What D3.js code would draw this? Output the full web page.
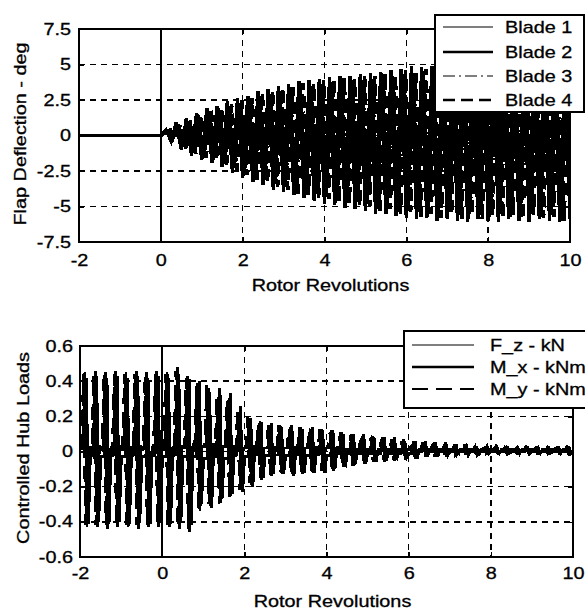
<!DOCTYPE html>
<html><head><meta charset="utf-8">
<script src="https://cdn.jsdelivr.net/npm/d3@7"></script>
<style>
body{margin:0;background:#fff}
text{font-family:"Liberation Sans",Arial,Helvetica,sans-serif;fill:#000;font-size:16px;stroke:#000;stroke-width:0.3px}
</style>
</head><body>
<svg id="chart" width="585" height="612"></svg>
<script>
// ---------- data ----------
const revTicks = [-2, 0, 2, 4, 6, 8, 10];
const revTickLabels = ["-2", "0", "2", "4", "6", "8", "10"];
const flapTicks = [-7.5, -5, -2.5, 0, 2.5, 5, 7.5];
const flapTickLabels = ["-7.5", "-5", "-2.5", "0", "2.5", "5", "7.5"];
const hubTicks = [-0.6, -0.4, -0.2, 0, 0.2, 0.4, 0.6];
const hubTickLabels = ["-0.6", "-0.4", "-0.2", "0", "0.2", "0.4", "0.6"];
const controlOn = 0;          // rotor revolution at which control is switched on
const xTitle = "Rotor Revolutions";
const flapTitle = "Flap Deflection - deg";
const hubTitle = "Controlled Hub Loads";
const bladeNames = ["Blade 1", "Blade 2", "Blade 3", "Blade 4"];
const hubNames = ["F_z - kN", "M_x - kNm", "M_y - kNm"];

// flap deflection: successive extremes (peak, trough, ...) every 1/8 rev from t = 0
const flapStep = 0.125;
const bladeLag = [0, 0.035, 0.07, 0.105];
const blade1 = [0,
 0.4,-0.4, 0.9,-1.0, 1.2,-1.4, 1.6,-1.7, 1.9,-1.9, 2.1,-2.2, 2.4,-2.6, 2.6,-3.0,
 2.8,-3.3, 3.1,-3.5, 3.3,-3.8, 3.5,-4.0, 3.6,-4.2, 3.8,-4.4, 3.9,-4.6, 4.0,-4.8,
 4.1,-4.9, 4.2,-5.1, 4.2,-5.2, 4.3,-5.3, 4.4,-5.5, 4.5,-5.5, 4.6,-5.7, 4.7,-5.8,
 4.9,-5.9, 4.8,-5.8, 4.9,-6.0, 4.7,-5.9, 4.9,-6.0, 4.8,-6.1, 5.0,-5.9, 4.8,-6.0,
 4.9,-6.1, 4.7,-5.9, 5.0,-6.0, 4.8,-6.1, 4.9,-5.9, 4.8,-6.0, 5.0,-6.1, 4.8,-5.9];
const blade2 = [0,
 0.3,-0.3, 0.8,-0.8, 1.0,-1.2, 1.4,-1.5, 1.7,-1.7, 1.9,-2.0, 2.1,-2.3, 2.3,-2.7,
 2.5,-2.9, 2.8,-3.1, 2.9,-3.4, 3.1,-3.6, 3.2,-3.8, 3.4,-3.9, 3.5,-4.1, 3.6,-4.3,
 3.7,-4.4, 3.8,-4.6, 3.9,-4.7, 3.9,-4.8, 4.0,-5.0, 4.1,-5.0, 4.2,-5.2, 4.3,-5.3,
 4.4,-5.4, 4.5,-5.3, 4.4,-5.5, 4.5,-5.4, 4.6,-5.6, 4.5,-5.5, 4.6,-5.6, 4.4,-5.7,
 4.6,-5.5, 4.5,-5.7, 4.4,-5.6, 4.6,-5.5, 4.5,-5.7, 4.4,-5.6, 4.6,-5.7, 4.5,-5.5];
const blade3 = [0,
 0.3,-0.3, 0.7,-0.8, 0.9,-1.1, 1.2,-1.3, 1.5,-1.5, 1.6,-1.7, 1.9,-2.0, 2.0,-2.3,
 2.2,-2.6, 2.4,-2.7, 2.6,-3.0, 2.7,-3.1, 2.8,-3.3, 3.0,-3.4, 3.0,-3.6, 3.1,-3.7,
 3.2,-3.8, 3.3,-4.0, 3.3,-4.1, 3.4,-4.1, 3.4,-4.3, 3.5,-4.3, 3.6,-4.4, 3.7,-4.5,
 3.8,-4.6, 3.7,-4.5, 3.8,-4.7, 3.7,-4.6, 3.8,-4.7, 3.9,-4.8, 3.8,-4.7, 3.9,-4.8,
 3.8,-4.7, 3.9,-4.8, 3.8,-4.7, 3.9,-4.9, 3.8,-4.7, 3.9,-4.8, 3.8,-4.9, 3.9,-4.7];
const blade4 = [0,
 0.4,-0.3, 0.8,-0.9, 1.1,-1.3, 1.5,-1.6, 1.8,-1.8, 2.0,-2.1, 2.2,-2.5, 2.5,-2.8,
 2.6,-3.1, 3.0,-3.3, 3.1,-3.6, 3.4,-3.8, 3.4,-4.1, 3.7,-4.2, 3.7,-4.4, 3.9,-4.5,
 3.9,-4.7, 4.1,-4.8, 4.0,-5.0, 4.2,-5.0, 4.2,-5.3, 4.4,-5.2, 4.3,-5.5, 4.6,-5.4,
 4.4,-5.7, 4.7,-5.5, 4.4,-5.8, 4.8,-5.6, 4.5,-5.9, 4.9,-5.6, 4.5,-5.9, 4.8,-5.7,
 4.5,-5.8, 4.9,-5.6, 4.5,-5.9, 4.8,-5.6, 4.4,-5.8, 4.9,-5.7, 4.5,-6.0, 4.8,-5.6];

// hub loads: per 1/4-rev cycle -> [rest before, peak, trough, rest after]
const hubStart = -1.88;                    // first 4/rev cycle
const hubCycle = 0.25;
const hubPhase = [-0.05, 0, 0.05, 0.1];    // sample times within a cycle (rev)
const hubLag = [0, 0.035, -0.035];
const fz = [
 0.02,0.45,-0.43,-0.03, -0.02,0.46,-0.43,0.03, 0.02,0.45,-0.44,-0.03, -0.02,0.46,-0.43,0.03,
 0.02,0.45,-0.43,-0.03, -0.02,0.46,-0.44,0.03, 0.02,0.45,-0.43,-0.03, -0.02,0.46,-0.43,0.03,
 0.02,0.45,-0.43,-0.03, -0.02,0.48,-0.44,0.03, 0.02,0.43,-0.46,-0.03, -0.03,0.39,-0.34,0.03,
 0.03,0.36,-0.31,-0.03, -0.03,0.31,-0.29,0.03, 0.03,0.27,-0.25,-0.03, -0.02,0.22,-0.22,0.02,
 0.02,0.18,-0.19,-0.02, -0.02,0.16,-0.16,0.02, 0.02,0.15,-0.14,-0.02, -0.02,0.15,-0.13,0.02,
 0.02,0.14,-0.13,-0.02, -0.02,0.14,-0.13,0.02, 0.02,0.13,-0.12,-0.02, -0.02,0.13,-0.11,0.02,
 0.02,0.12,-0.11,-0.01, -0.01,0.11,-0.09,0.01, 0.01,0.10,-0.08,-0.01, -0.01,0.09,-0.07,0.01,
 0.01,0.09,-0.06,-0.01, -0.01,0.08,-0.06,0.01, 0.01,0.07,-0.05,-0.01, -0.01,0.07,-0.05,0.01,
 0.01,0.06,-0.04,0, 0,0.05,-0.03,0.01, 0.01,0.05,-0.03,0, 0,0.04,-0.03,0.01,
 0.01,0.04,-0.02,0, 0,0.04,-0.02,0.01, 0.01,0.03,-0.02,0, 0,0.03,-0.02,0.01,
 0.01,0.03,-0.01,0, 0,0.02,-0.01,0.01, 0.01,0.02,-0.01,0, 0,0.02,-0.01,0.01,
 0.01,0.02,-0.01,0, 0,0.02,-0.01,0.01, 0.01,0.02,-0.01,0, 0,0.02,-0.01,0.01];
const mx = [
 -0.03,0.42,-0.41,0.02, 0.02,0.43,-0.40,-0.03, -0.03,0.42,-0.41,0.02, 0.02,0.43,-0.40,-0.03,
 -0.03,0.42,-0.41,0.02, 0.02,0.43,-0.40,-0.03, -0.03,0.42,-0.41,0.02, 0.02,0.43,-0.40,-0.03,
 -0.03,0.42,-0.41,0.02, 0.03,0.44,-0.40,-0.03, -0.03,0.41,-0.42,0.04, 0.04,0.40,-0.30,-0.04,
 -0.04,0.34,-0.32,0.04, 0.04,0.36,-0.27,-0.04, -0.04,0.33,-0.24,0.03, 0.03,0.26,-0.23,-0.03,
 -0.03,0.19,-0.20,0.03, 0.03,0.17,-0.15,-0.02, -0.02,0.16,-0.13,0.02, 0.02,0.14,-0.13,-0.02,
 -0.02,0.15,-0.14,0.02, 0.02,0.13,-0.12,-0.02, -0.02,0.14,-0.12,0.02, 0.02,0.12,-0.12,-0.02,
 -0.02,0.12,-0.10,0.02, 0.02,0.10,-0.09,-0.01, -0.01,0.10,-0.07,0.01, 0.01,0.10,-0.07,-0.01,
 -0.01,0.08,-0.06,0.01, 0.01,0.08,-0.05,-0.01, -0.01,0.08,-0.05,0.01, 0.01,0.06,-0.04,-0.01,
 -0.01,0.06,-0.04,0.01, 0.01,0.06,-0.03,0, 0,0.05,-0.03,0.01, 0.01,0.05,-0.02,0,
 0,0.04,-0.02,0.01, 0.01,0.03,-0.02,0, 0,0.03,-0.02,0.01, 0.01,0.03,-0.01,0,
 0,0.02,-0.01,0.01, 0.01,0.02,-0.01,0, 0,0.02,-0.01,0.01, 0.01,0.02,-0.01,0,
 0,0.02,-0.01,0.01, 0.01,0.02,-0.01,0, 0,0.02,-0.01,0.01, 0.01,0.02,-0.01,0];
const my = [
 0.01,0.44,-0.42,-0.01, -0.01,0.44,-0.42,0.01, 0.01,0.44,-0.42,-0.01, -0.01,0.44,-0.42,0.01,
 0.01,0.44,-0.42,-0.01, -0.01,0.44,-0.42,0.01, 0.01,0.44,-0.42,-0.01, -0.01,0.44,-0.42,0.01,
 0.01,0.44,-0.42,-0.02, -0.02,0.46,-0.43,0.03, 0.03,0.42,-0.44,-0.03, -0.03,0.37,-0.33,0.03,
 0.03,0.38,-0.30,-0.03, -0.03,0.32,-0.30,0.03, 0.03,0.30,-0.26,-0.02, -0.02,0.24,-0.22,0.02,
 0.02,0.20,-0.18,-0.02, -0.02,0.16,-0.15,0.02, 0.02,0.15,-0.14,-0.02, -0.02,0.15,-0.12,0.02,
 0.02,0.13,-0.13,-0.02, -0.02,0.14,-0.12,0.02, 0.02,0.12,-0.11,-0.02, -0.02,0.13,-0.11,0.02,
 0.02,0.11,-0.10,-0.01, -0.01,0.11,-0.08,0.01, 0.01,0.09,-0.08,-0.01, -0.01,0.09,-0.06,0.01,
 0.01,0.08,-0.06,-0.01, -0.01,0.07,-0.05,0.01, 0.01,0.07,-0.05,-0.01, -0.01,0.06,-0.04,0.01,
 0.01,0.06,-0.03,0, 0,0.05,-0.03,0.01, 0.01,0.04,-0.03,0, 0,0.04,-0.02,0.01,
 0.01,0.04,-0.02,0, 0,0.03,-0.02,0.01, 0.01,0.03,-0.01,0, 0,0.03,-0.01,0.01,
 0.01,0.02,-0.01,0, 0,0.02,-0.01,0.01, 0.01,0.02,-0.01,0, 0,0.02,-0.01,0.01,
 0.01,0.02,-0.01,0, 0,0.02,-0.01,0.01, 0.01,0.02,-0.01,0, 0,0.02,-0.01,0.01];

// ---------- drawing ----------
const svg = d3.select("#chart");
const SX = 1.24; // horizontal glyph stretch of the original typeface

function stretchText(sel) {
  sel.each(function () {
    const t = d3.select(this);
    const x = +t.attr("x") || 0, y = +t.attr("y") || 0;
    t.attr("x", 0).attr("y", 0).attr("transform", `translate(${x},${y}) scale(${SX},1)`);
  });
}

// legend stroke width w, trace stroke width tw (scanned traces are heavy)
const blStyles = [
  {w: 1.2, tw: 3.4, dash: null},
  {w: 2.4, tw: 3.6, dash: null},
  {w: 1.2, tw: 3.4, dash: "12,4,2,4"},
  {w: 2.4, tw: 3.6, dash: "12,6"}
];
const hubStyles = [
  {w: 1.2, tw: 2.8, dash: null},
  {w: 2.4, tw: 3.0, dash: null},
  {w: 2.2, tw: 2.8, dash: "16,8"}
];

function panel(cfg) {
  const {left, right, top, bottom, yDomain, yTicks, yLabels, padX, padY, id} = cfg;
  const x = d3.scaleLinear().domain([-2, 10]).range([left, right]);
  const y = d3.scaleLinear().domain(yDomain).range([bottom, top]);
  const g = svg.append("g");

  g.append("clipPath").attr("id", id).append("rect")
    .attr("x", left).attr("y", top).attr("width", right - left).attr("height", bottom - top);

  // grid
  const grid = g.append("g").attr("stroke", "#000").attr("stroke-width", 1.6)
    .attr("stroke-dasharray", "6,5").attr("fill", "none").attr("shape-rendering", "crispEdges");
  yTicks.slice(1, -1).forEach(v => grid.append("line")
    .attr("x1", left).attr("x2", right).attr("y1", y(v)).attr("y2", y(v)));
  revTicks.slice(1, -1).filter(v => v !== controlOn).forEach(v => grid.append("line")
    .attr("x1", x(v)).attr("x2", x(v)).attr("y1", top).attr("y2", bottom));

  // data
  const dg = g.append("g").attr("clip-path", `url(#${id})`);
  cfg.series.forEach((s, i) => {
    const line = d3.line().x(d => x(d.t)).y(d => y(d.v));
    dg.append("path").datum(s.points)
      .attr("d", line).attr("fill", "none").attr("stroke", "#000")
      .attr("stroke-width", cfg.styles[i].tw)
      .attr("stroke-dasharray", cfg.styles[i].dash)
      .attr("stroke-linejoin", "miter").attr("stroke-miterlimit", 3)
      .attr("shape-rendering", "crispEdges");
  });

  // control-on marker line
  g.append("line").attr("x1", x(controlOn)).attr("x2", x(controlOn))
    .attr("y1", top).attr("y2", bottom).attr("stroke", "#000").attr("stroke-width", 1.6)
    .attr("shape-rendering", "crispEdges");

  // axes
  const ax = g.append("g").attr("transform", `translate(0,${bottom})`)
    .call(d3.axisBottom(x).tickValues(revTicks).tickFormat((d, i) => revTickLabels[i])
      .tickSizeInner(-5).tickSizeOuter(0).tickPadding(padX));
  const ay = g.append("g").attr("transform", `translate(${left},0)`)
    .call(d3.axisLeft(y).tickValues(yTicks).tickFormat((d, i) => yLabels[i])
      .tickSizeInner(-5).tickSizeOuter(0).tickPadding(padY));
  const at = g.append("g").attr("transform", `translate(0,${top})`)
    .call(d3.axisTop(x).tickValues(revTicks).tickFormat("").tickSizeInner(-5).tickSizeOuter(0));
  const ar = g.append("g").attr("transform", `translate(${right},0)`)
    .call(d3.axisRight(y).tickValues(yTicks).tickFormat("").tickSizeInner(-5).tickSizeOuter(0));
  [ax, ay, at, ar].forEach(a => {
    a.select(".domain").remove();
    a.selectAll("line").attr("stroke", "#000").attr("stroke-width", 1.5).attr("shape-rendering", "crispEdges");
    a.selectAll("text").attr("font-size", 16).attr("font-family", null).attr("fill", "#000");
  });
  stretchText(ax.selectAll("text"));
  stretchText(ay.selectAll("text"));

  // frame
  g.append("rect").attr("x", left).attr("y", top).attr("width", right - left).attr("height", bottom - top)
    .attr("fill", "none").attr("stroke", "#000").attr("stroke-width", 2)
    .attr("shape-rendering", "crispEdges");

  // titles
  g.append("text").attr("text-anchor", "middle")
    .attr("transform", `translate(${(left + right) / 2 + 6},${cfg.xTitleY}) scale(${SX},1)`)
    .text(xTitle);
  g.append("text").attr("text-anchor", "middle")
    .attr("transform", `translate(${cfg.yTitleX},${cfg.yTitleY}) rotate(-90) scale(${SX},1)`)
    .text(cfg.yTitle);

  // legend
  const L = cfg.legend;
  const lg = g.append("g");
  lg.append("rect").attr("x", L.x).attr("y", L.y).attr("width", L.w).attr("height", L.h)
    .attr("fill", "#fff").attr("stroke", "#000").attr("stroke-width", 1.5)
    .attr("shape-rendering", "crispEdges");
  cfg.names.forEach((n, i) => {
    const yy = L.rows[i];
    lg.append("line").attr("x1", L.lx1).attr("x2", L.lx2).attr("y1", yy).attr("y2", yy)
      .attr("stroke", "#000").attr("stroke-width", cfg.styles[i].w)
      .attr("stroke-dasharray", cfg.styles[i].dash);
    lg.append("text").attr("transform", `translate(${L.tx},${yy + 5.5}) scale(${SX},1)`).text(n);
  });
}

const bladeSeries = [blade1, blade2, blade3, blade4].map((arr, b) => ({
  points: [{t: -2, v: 0}].concat(arr.map((v, i) => ({t: i * flapStep + (i ? bladeLag[b] : 0), v})))
}));
const hubSeries = [fz, mx, my].map((arr, s) => ({
  points: arr.map((v, i) => ({
    t: hubStart + Math.floor(i / 4) * hubCycle + hubPhase[i % 4] + hubLag[s], v
  }))
}));

panel({
  id: "clipTop", left: 79, right: 570, top: 29, bottom: 242,
  yDomain: [-7.5, 7.5], yTicks: flapTicks, yLabels: flapTickLabels, padX: 13, padY: 8,
  series: bladeSeries, styles: blStyles, names: bladeNames,
  xTitleY: 291, yTitleX: 26, yTitleY: 134, yTitle: flapTitle,
  legend: {x: 435, y: 15, w: 149, h: 97, rows: [27, 52, 76, 100], lx1: 443, lx2: 493, tx: 505}
});
panel({
  id: "clipBot", left: 80, right: 573, top: 346, bottom: 557,
  yDomain: [-0.6, 0.6], yTicks: hubTicks, yLabels: hubTickLabels, padX: 11, padY: 7,
  series: hubSeries, styles: hubStyles, names: hubNames,
  xTitleY: 607, yTitleX: 29, yTitleY: 448, yTitle: hubTitle,
  legend: {x: 404, y: 331, w: 200, h: 77, rows: [345, 367, 389], lx1: 412, lx2: 474, tx: 490}
});
</script>
</body></html>
